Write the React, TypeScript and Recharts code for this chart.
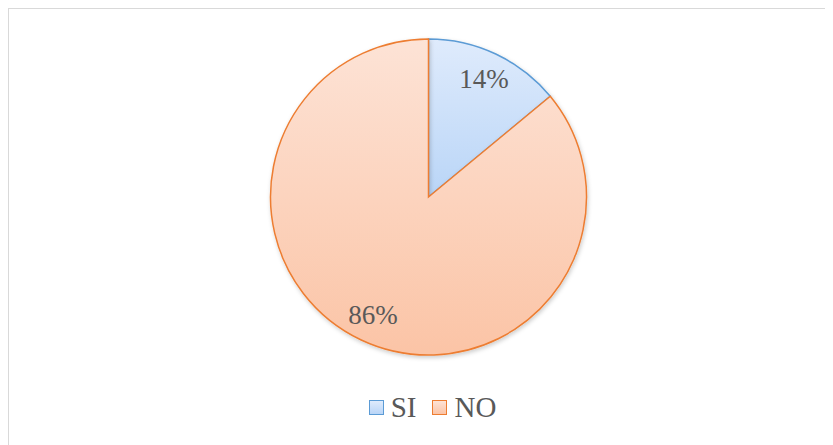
import { Cell, Pie, PieChart } from "recharts";

const categories = ["SI", "NO"];
const values = [14, 86];
const strokes = ["#5b9bd5", "#ed7d31"];
const gradTop = ["#dfebfc", "#fde3d6"];
const gradBottom = ["#b9d5f7", "#fbc4a6"];

const data = categories.map((name, i) => ({ name, value: values[i] }));
const total = values.reduce((a, b) => a + b, 0);

const RAD = Math.PI / 180;
const SERIF = '"Liberation Serif", "Times New Roman", serif';

function renderLabel(props: any) {
  const { cx, cy, midAngle, outerRadius, value } = props;
  const r = outerRadius * 0.825;
  const x = cx + r * Math.cos(-midAngle * RAD);
  const y = cy + r * Math.sin(-midAngle * RAD);
  return (
    <text
      x={x}
      y={y}
      textAnchor="middle"
      dominantBaseline="central"
      fill="#595959"
      fontSize={27}
      fontFamily={SERIF}
    >
      {Math.round((value / total) * 100)}%
    </text>
  );
}

function LegendRow() {
  return (
    <div
      style={{
        position: "absolute",
        top: 381,
        left: 8,
        width: "100%",
        display: "flex",
        justifyContent: "center",
        gap: 16,
        fontFamily: SERIF,
        fontSize: 29,
        color: "#595959",
        lineHeight: "34px",
      }}
    >
      {categories.map((c, i) => (
        <div key={c} style={{ display: "flex", alignItems: "center", gap: 7 }}>
          <span
            style={{
              width: 15,
              height: 15,
              boxSizing: "border-box",
              border: `1.5px solid ${strokes[i]}`,
              background: `linear-gradient(${gradTop[i]}, ${gradBottom[i]})`,
              display: "inline-block",
            }}
          />
          <span>{c}</span>
        </div>
      ))}
    </div>
  );
}

export default function App() {
  return (
    <div
      style={{
        position: "relative",
        width: 833,
        height: 445,
        border: "1px solid #d9d9d9",
        background: "#fff",
        boxSizing: "border-box",
      }}
    >
      <PieChart width={831} height={443} margin={{ top: 0, right: 0, bottom: 0, left: 0 }}>
        <defs>
          {categories.map((c, i) => (
            <linearGradient key={c} id={`grad${i}`} x1="0" y1="0" x2="0" y2="1">
              <stop offset="0%" stopColor={gradTop[i]} />
              <stop offset="100%" stopColor={gradBottom[i]} />
            </linearGradient>
          ))}
          <filter id="shadow" x="-10%" y="-10%" width="120%" height="120%">
            <feDropShadow dx="1" dy="2" stdDeviation="2" floodColor="#000" floodOpacity="0.2" />
          </filter>
        </defs>
        <Pie
          data={data}
          dataKey="value"
          nameKey="name"
          cx={419.5}
          cy={188}
          outerRadius={158}
          startAngle={90}
          endAngle={-270}
          label={renderLabel}
          labelLine={false}
          isAnimationActive={false}
          style={{ filter: "url(#shadow)" }}
        >
          {data.map((d, i) => (
            <Cell key={d.name} fill={`url(#grad${i})`} stroke={strokes[i]} strokeWidth={1.5} />
          ))}
        </Pie>
      </PieChart>
      <LegendRow />
    </div>
  );
}
